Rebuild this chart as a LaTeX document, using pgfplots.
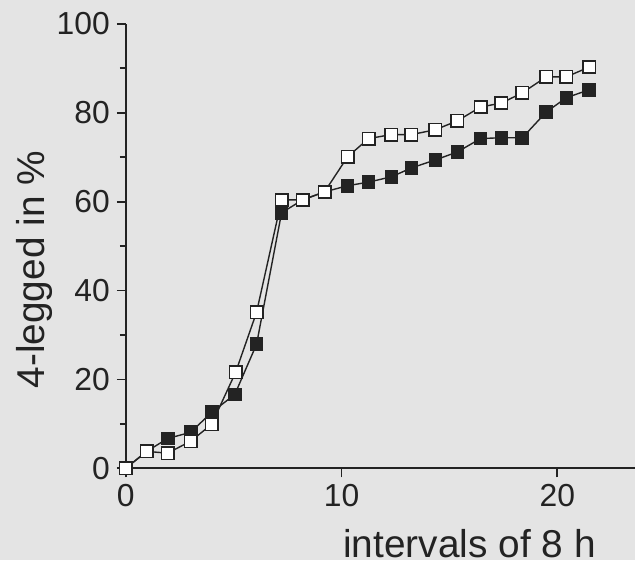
\documentclass[border=0pt]{standalone}
\usepackage{fontspec}
\setmainfont{Liberation Sans}
\usepackage{pgfplots}
\pgfplotsset{compat=1.18}
\definecolor{paper}{RGB}{228,228,228}
\definecolor{ink}{RGB}{35,35,35}

\begin{document}
\begin{tikzpicture}
% scanned paper background, sets the page size
\fill[paper] (-63bp,-46bp) rectangle (255bp,234.5bp);
\begin{axis}[
    at={(0,0)}, anchor=south west,
    scale only axis,
    width=255bp, height=222.5bp,
    xmin=0, xmax=23.6,
    ymin=0, ymax=100,
    axis lines=left,
    axis line style={-, line width=1bp, ink},
    xtick={0,10,20},
    ytick={0,20,...,100},
    minor ytick={10,30,50,70,90},
    tick align=outside,
    major tick length=4.5bp,
    minor tick length=3bp,
    tick style={ink, line width=0.9bp},
    tick label style={font=\fontsize{16}{19}\selectfont, text=ink},
    /pgf/number format/assume math mode=true,
    xlabel={intervals of 8 h},
    xlabel style={at={(axis description cs:0.675,-0.2)}, anchor=base,
        font=\fontsize{19.5}{23}\selectfont, text=ink},
    ylabel={4-legged in \%},
    ylabel style={at={(axis description cs:-0.159,0.447)}, anchor=base,
        font=\fontsize{19.5}{23}\selectfont, text=ink},
    clip=false,
]
% filled squares
\addplot[ink, line width=0.7bp, mark=square*, mark size=3.1bp,
    mark options={fill=ink, draw=ink, solid}]
    coordinates {
    (0,0) (0.97,3.8) (1.94,6.7) (3.01,8.1) (3.98,12.6) (5.05,16.6)
    (6.06,27.9) (7.22,57.5) (8.19,60.4) (9.21,62.2) (10.28,63.6)
    (11.25,64.4) (12.31,65.6) (13.24,67.6) (14.35,69.4) (15.37,71.2)
    (16.44,74.2) (17.41,74.4) (18.38,74.4) (19.49,80.2) (20.42,83.4)
    (21.48,85.2)
    };
% open squares
\addplot[ink, line width=0.7bp, mark=square*, mark size=3.1bp,
    mark options={fill=white, draw=ink, line width=0.8bp, solid}]
    coordinates {
    (0,0) (0.97,3.8) (1.94,3.4) (3.01,6.1) (3.98,9.9) (5.09,21.6)
    (6.06,35.1) (7.22,60.4) (8.19,60.4) (9.21,62.2) (10.28,70.1)
    (11.25,74.2) (12.31,75.1) (13.24,75.1) (14.35,76.2) (15.37,78.2)
    (16.44,81.3) (17.41,82.2) (18.38,84.5) (19.49,88.1) (20.42,88.1)
    (21.48,90.3)
    };
\end{axis}
\end{tikzpicture}
\end{document}
